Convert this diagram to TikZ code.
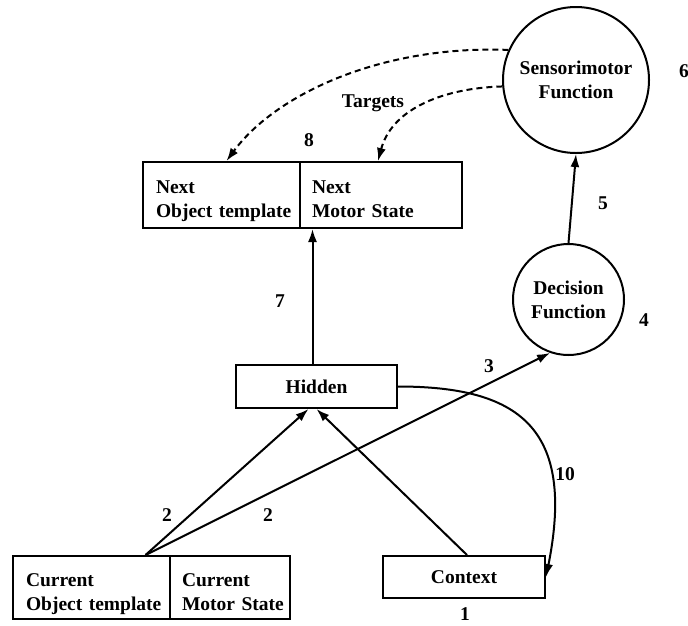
\documentclass[tikz,border=0pt]{standalone}
\usepackage{fontspec}
\setmainfont{Liberation Serif}
\usetikzlibrary{arrows.meta,calc}
\begin{document}
\begin{tikzpicture}[x=1pt,y=-1pt,
  every node/.style={font=\fontsize{19.5}{24}\selectfont\bfseries},
  cell/.style={draw, line width=2pt, align=left, inner xsep=13pt, inner ysep=0pt, text height=12pt, text depth=14.5pt},
  box/.style={draw, line width=2pt, align=center, inner sep=0pt},
  func/.style={draw, circle, line width=2pt, align=center, inner sep=0pt},
  arr/.style={line width=2pt, -{Latex[length=13pt,width=9pt]}},
  target/.style={line width=2pt, dash pattern=on 6pt off 4pt, -{Latex[length=13pt,width=9pt]}},
  lbl/.style={inner sep=0pt}]
\useasboundingbox (0,0) rectangle (688,625);

% state boxes
\node[cell, text width=131pt, minimum height=66pt] (nextL) at (221.5,195) {Next\\\mbox{Object template}};
\node[cell, text width=138pt, inner xsep=12pt, minimum height=66pt] (nextR) at (381,195) {Next\\\mbox{Motor State}};
\node[cell, text width=131pt, minimum height=63pt] (curL) at (91.5,587.5) {Current\\\mbox{Object template}};
\node[cell, text width=96pt, inner xsep=12pt, minimum height=63pt] (curR) at (230,587.5) {Current\\\mbox{Motor State}};
\node[box, minimum width=161pt, minimum height=43pt] (hidden) at (316.5,386.5) {Hidden};
\node[box, minimum width=162pt, minimum height=42pt] (ctx) at (464,577) {Context};

% function units
\node[func, minimum size=146pt] (sens) at (576,80) {Sensorimotor\\Function};
\node[func, minimum size=111pt] (dec) at (568.5,299.5) {Decision\\Function};

% forward connections
\coordinate (cs) at ([xshift=54pt]curL.north);
\draw[arr] (cs) -- ([xshift=-8pt]hidden.south);
\draw[arr] (cs) -- (dec.251);
\draw[arr] ([xshift=3pt]ctx.north) -- (hidden.south);
\draw[arr] ([xshift=-4pt]hidden.north) -- ([xshift=-4pt]hidden.north |- nextR.south);
\draw[arr] (dec.north) -- (sens.south);
\draw[arr] (hidden.east) .. controls +(120,0) and +(30,-150) .. (ctx.east);

% target signals
\draw[target] (sens.156) .. controls (380,45) and (275,95) .. ([xshift=5pt]nextL.north);
\draw[target] (sens.185) .. controls (445,88) and (392,108) .. ([xshift=-3pt]nextR.north);

% labels
\node[lbl] (tTargets) at (373,103) {Targets};
\node[lbl] (t8) at (309,140) {8};
\node[lbl] (t6) at (684,71) {6};
\node[lbl] (t5) at (603,203) {5};
\node[lbl] (t4) at (644,320) {4};
\node[lbl] (t7) at (280,301) {7};
\node[lbl] (t3) at (489,366) {3};
\node[lbl] (t2a) at (167,515) {2};
\node[lbl] (t2b) at (268,515) {2};
\node[lbl] (t10) at (565,474) {10};
\node[lbl] (t1) at (465,614) {1};
\end{tikzpicture}
\end{document}
